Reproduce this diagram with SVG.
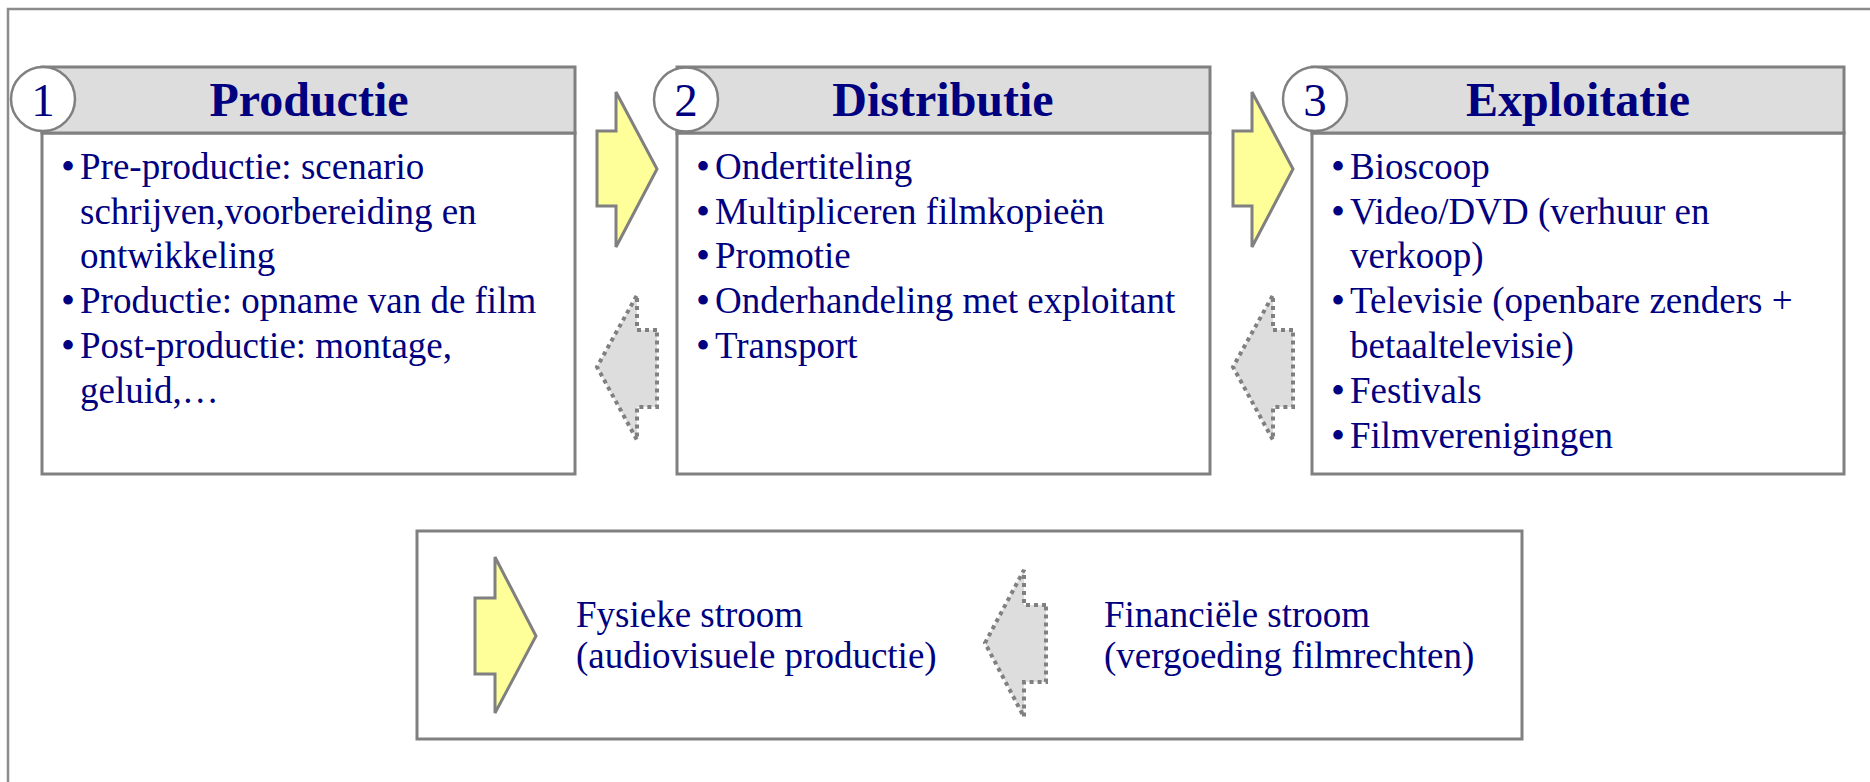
<svg xmlns="http://www.w3.org/2000/svg" width="1870" height="782" viewBox="0 0 1870 782">
<style>
  .frame{fill:none;stroke:#8c8c8c;stroke-width:2.5}
  .box{fill:#ffffff;stroke:#808080;stroke-width:3}
  .hdr{fill:#dddddd;stroke:#808080;stroke-width:3}
  .num{fill:#ffffff;stroke:#808080;stroke-width:2.5}
  .t{font-family:"Liberation Serif","Times New Roman",serif;fill:#000080}
  .title{font-size:48px;font-weight:bold;text-anchor:middle}
  .n{font-size:47px;text-anchor:middle}
  .b{font-size:37px}
  .bul{font-size:40px}
  .phys{fill:#ffff99;stroke:#808080;stroke-width:3;stroke-linejoin:miter}
  .fin{fill:#dddddd;stroke:#808080;stroke-width:4;stroke-dasharray:4 4}
</style>
<rect class="frame" x="8" y="9" width="1900" height="800"/>

<g id="node-productie">
  <rect class="box" x="42" y="133" width="533" height="341"/>
  <rect class="hdr" x="42" y="67" width="533" height="66"/>
  <circle class="num" cx="43" cy="99" r="32"/>
  <text class="t n" x="43" y="116">1</text>
  <text class="t title" x="309" y="116">Productie</text>
  <text class="t b" y="179"><tspan class="bul" x="61" dy="1">•</tspan><tspan x="80" dy="-1">Pre-productie: scenario</tspan></text>
  <text class="t b" x="80" y="224">schrijven,voorbereiding en</text>
  <text class="t b" x="80" y="268">ontwikkeling</text>
  <text class="t b" y="313"><tspan class="bul" x="61" dy="1">•</tspan><tspan x="80" dy="-1">Productie: opname van de film</tspan></text>
  <text class="t b" y="358"><tspan class="bul" x="61" dy="1">•</tspan><tspan x="80" dy="-1">Post-productie: montage,</tspan></text>
  <text class="t b" x="80" y="403">geluid,…</text>
</g>

<g id="node-distributie">
  <rect class="box" x="677" y="133" width="533" height="341"/>
  <rect class="hdr" x="677" y="67" width="533" height="66"/>
  <circle class="num" cx="686" cy="99.5" r="32"/>
  <text class="t n" x="686" y="116">2</text>
  <text class="t title" x="943" y="116">Distributie</text>
  <text class="t b" y="179"><tspan class="bul" x="696" dy="1">•</tspan><tspan x="715" dy="-1">Ondertiteling</tspan></text>
  <text class="t b" y="224"><tspan class="bul" x="696" dy="1">•</tspan><tspan x="715" dy="-1">Multipliceren filmkopieën</tspan></text>
  <text class="t b" y="268"><tspan class="bul" x="696" dy="1">•</tspan><tspan x="715" dy="-1">Promotie</tspan></text>
  <text class="t b" y="313"><tspan class="bul" x="696" dy="1">•</tspan><tspan x="715" dy="-1">Onderhandeling met exploitant</tspan></text>
  <text class="t b" y="358"><tspan class="bul" x="696" dy="1">•</tspan><tspan x="715" dy="-1">Transport</tspan></text>
</g>

<g id="node-exploitatie">
  <rect class="box" x="1312" y="133" width="532" height="341"/>
  <rect class="hdr" x="1312" y="67" width="532" height="66"/>
  <circle class="num" cx="1315" cy="99" r="32"/>
  <text class="t n" x="1315" y="116">3</text>
  <text class="t title" x="1578" y="116">Exploitatie</text>
  <text class="t b" y="179"><tspan class="bul" x="1331" dy="1">•</tspan><tspan x="1350" dy="-1">Bioscoop</tspan></text>
  <text class="t b" y="224"><tspan class="bul" x="1331" dy="1">•</tspan><tspan x="1350" dy="-1">Video/DVD (verhuur en</tspan></text>
  <text class="t b" x="1350" y="268">verkoop)</text>
  <text class="t b" y="313"><tspan class="bul" x="1331" dy="1">•</tspan><tspan x="1350" dy="-1">Televisie (openbare zenders +</tspan></text>
  <text class="t b" x="1350" y="358">betaaltelevisie)</text>
  <text class="t b" y="403"><tspan class="bul" x="1331" dy="1">•</tspan><tspan x="1350" dy="-1">Festivals</tspan></text>
  <text class="t b" y="448"><tspan class="bul" x="1331" dy="1">•</tspan><tspan x="1350" dy="-1">Filmverenigingen</tspan></text>
</g>

<g id="connectors">
  <path class="phys" d="M597,131 H616 V92 L657,169 L616,247 V206 H597 Z"/>
  <path class="fin" d="M657,330 H637 V295 L597,367 L637,440 V407 H657 Z"/>
  <path class="phys" d="M1233,131 H1252 V92 L1293,169 L1252,247 V206 H1233 Z"/>
  <path class="fin" d="M1293,330 H1273 V295 L1233,367 L1273,440 V407 H1293 Z"/>
</g>

<g id="legend">
  <rect class="box" x="417" y="531" width="1105" height="208"/>
  <path class="phys" d="M475,598 H495 V557 L536,636 L495,713 V674 H475 Z"/>
  <text class="t b" x="576" y="627">Fysieke stroom</text>
  <text class="t b" x="576" y="668">(audiovisuele productie)</text>
  <path class="fin" d="M1046,605 H1024 V570 L985,643 L1024,717 V682 H1046 Z"/>
  <text class="t b" x="1104" y="627">Financiële stroom</text>
  <text class="t b" x="1104" y="668">(vergoeding filmrechten)</text>
</g>
</svg>
